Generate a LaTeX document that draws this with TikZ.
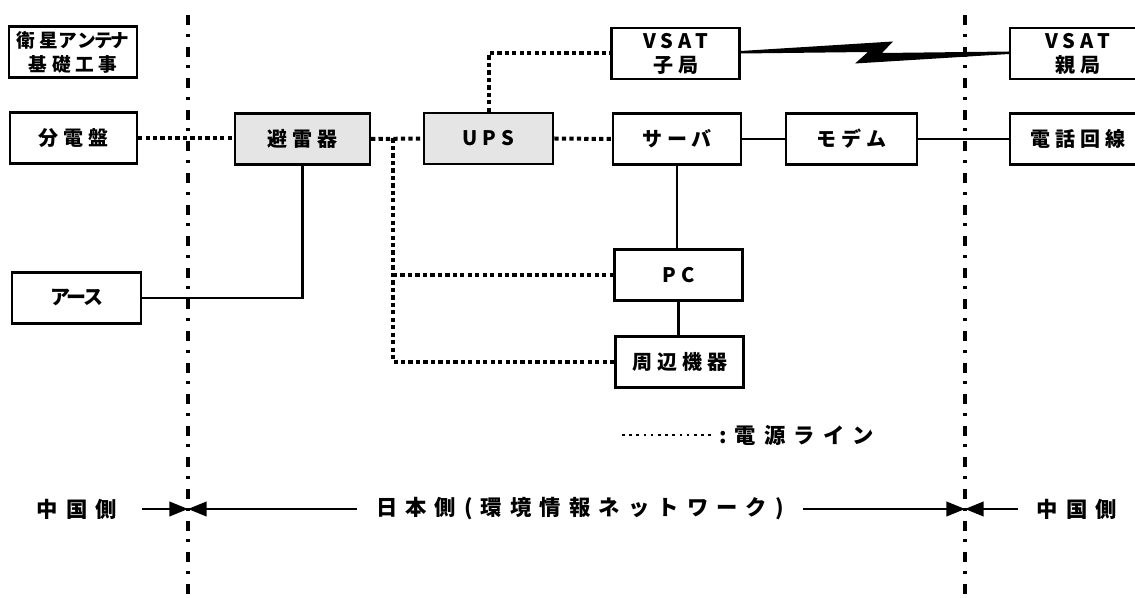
\documentclass[tikz,border=0pt]{standalone}
\usepackage{fontspec}
\setmainfont{Noto Sans CJK JP}
\newfontfamily\bxfont{Noto Sans CJK JP}[LetterSpace=25]
\newfontfamily\tightfont{Noto Sans CJK JP}[LetterSpace=-12]
\newfontfamily\btfont{Noto Sans CJK JP}[LetterSpace=38]
\usetikzlibrary{arrows.meta,calc}
\begin{document}
\begin{tikzpicture}[x=0.75pt,y=-0.75pt,
  box/.style={draw,line width=1.8pt,minimum height=38pt,minimum width=96pt,inner sep=0pt,
    font=\bxfont\bfseries\fontsize{15}{18}\selectfont,align=center},
  shaded/.style={box,fill=black!10},
  pwr/.style={line width=3pt,dash pattern=on 3.2pt off 2.4pt},
  legdot/.style={line width=2.2pt,dash pattern=on 2pt off 3.4pt},
  wire/.style={line width=1.6pt},
  divider/.style={line width=3pt,dash pattern=on 7.5pt off 6.5pt on 2.2pt off 7.5pt},
  lbl/.style={font=\btfont\bfseries\fontsize{16}{18}\selectfont,inner sep=0pt},
  arr/.style={line width=1.4pt,-{Triangle[length=14pt,width=11pt]}}
]
\useasboundingbox (0,0) rectangle (1135,598);

% dividers
\coordinate (dLt) at (188,15);
\coordinate (dLb) at (188,600);
\coordinate (dRt) at (965,15);
\coordinate (dRb) at (965,600);
\draw[divider] (dLt) -- (dLb);
\draw[divider] (dRt) -- (dRb);

% boxes
\node[box,font=\bxfont\bfseries\fontsize{14}{18}\selectfont] (ant) at (73,52)
  {衛星{\tightfont ア\kern0.5ptンテナ}\\基礎工事};
\node[box,minimum width=95pt] (bun) at (73.5,138) {分電盤};
\node[shaded,minimum width=101pt] (hir) at (302.5,139) {避雷器};
\node[shaded,minimum width=97pt] (ups) at (488.5,138.5) {UPS};
\node[box] (vsc) at (675.5,53.5) {VSAT\\子局};
\node[box] (srv) at (677,139) {サーバ};
\node[box,minimum width=98pt] (mdm) at (851.5,139) {モデム};
\node[box,minimum width=101pt] (tel) at (1077.5,139) {電話回線};
\node[box,minimum width=101pt] (vsp) at (1077.5,53.5) {VSAT\\親局};
\node[box] (pc) at (678.5,275) {PC};
\node[box] (per) at (679.5,362) {周辺機器};
\node[box,minimum width=97pt] (ear) at (76.5,298) {{\tightfont アース}};

% power lines
\draw[pwr] (bun.east) -- (bun.east -| hir.west);
\draw[pwr] (hir.east) -- (ups.west);
\coordinate (j) at (393,138.5);
\draw[pwr] (j) |- (per.west);
\draw[pwr] (j |- pc.west) -- (pc.west);
\draw[pwr] (ups.north) |- (vsc.west);
\draw[pwr] (ups.east) -- (srv.west);

% signal lines
\draw[wire] (srv.east) -- (mdm.west);
\draw[wire] (mdm.east) -- (tel.west);
\draw[wire] (srv.south) -- (srv.south |- pc.north);
\draw[wire] (pc.south) -- (pc.south |- per.north);
\draw[wire] (hir.south) |- (ear.east);

% satellite link (lightning)
\fill ($(vsc.east)+(0,-2.5)$) -- (893,41.5) -- (882,53) -- ($(vsp.west)+(0,-2)$)
  -- ($(vsp.west)+(0,0.5)$) -- (855,63.5) -- (868,52) -- ($(vsc.east)+(0,0)$) -- cycle;

% legend
\coordinate (lg1) at (622,435);
\coordinate (lg2) at (713,435);
\draw[legdot] (lg1) -- (lg2);
\node[lbl,anchor=west] (lgt) at (719,435) {:電源ライン};

% bottom labels and arrows
\node[lbl] (cn1) at (77,509) {中国側};
\node[lbl] (jp) at (580,509) {日本側(環境情報ネットワーク)};
\node[lbl] (cn2) at (1077,509) {中国側};
\coordinate (mL) at (188,509);
\coordinate (mR) at (965,509);
\coordinate (s1) at (142,509);
\coordinate (s2) at (357,509);
\coordinate (s3) at (803,509);
\coordinate (s4) at (1018,509);
\draw[arr] (s1) -- (mL);
\draw[arr] (s2) -- (mL);
\draw[arr] (s3) -- (mR);
\draw[arr] (s4) -- (mR);
\end{tikzpicture}
\end{document}
